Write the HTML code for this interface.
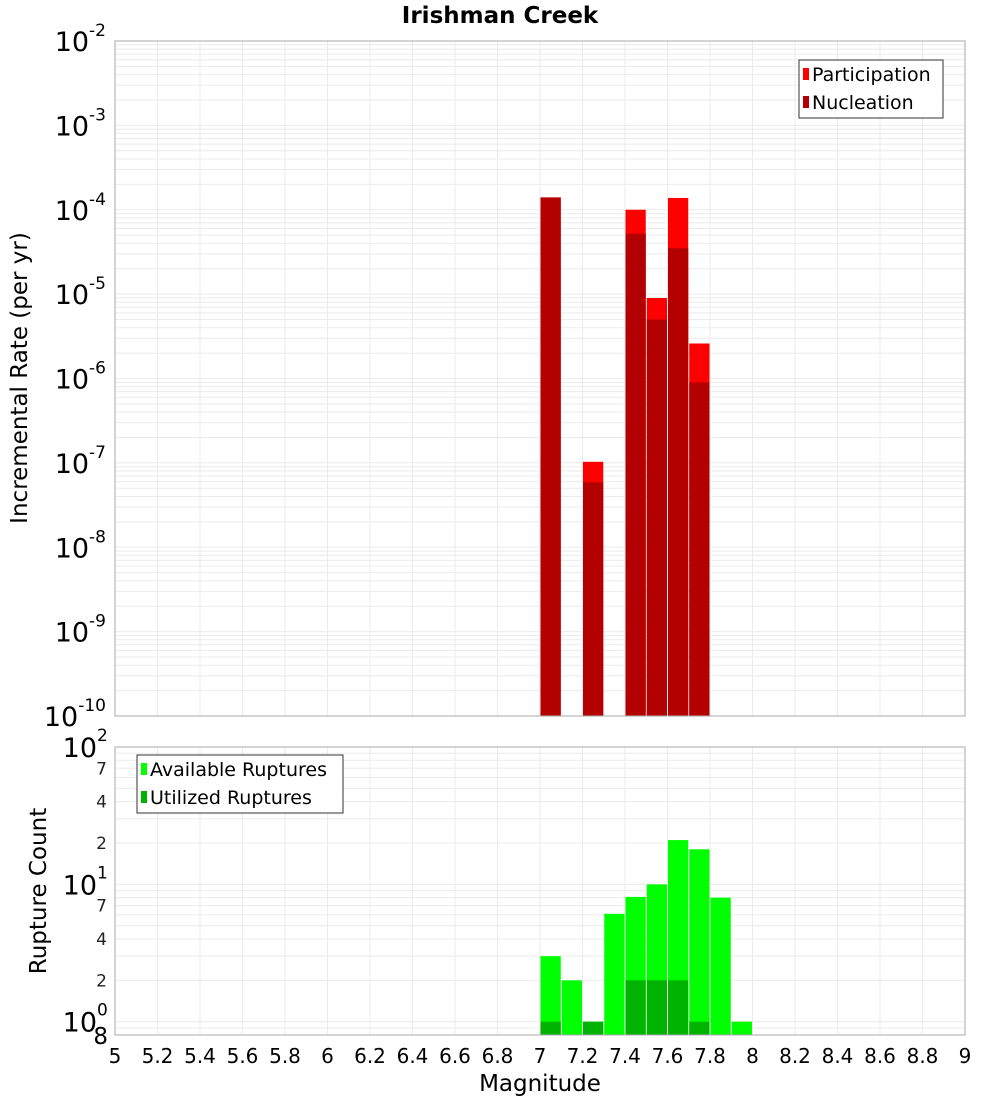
<!DOCTYPE html>
<html><head><meta charset="utf-8"><style>
body{margin:0;background:#fff;}
svg{display:block;font-family:"DejaVu Sans","Liberation Sans",sans-serif;}
</style></head><body>
<svg id="chart" width="1000" height="1100"></svg>
<script>
const mags = [7.05, 7.25, 7.45, 7.55, 7.65, 7.75];
const participation = [1.4e-4, 1.03e-7, 1.0e-4, 9e-6, 1.38e-4, 2.6e-6];
const nucleation = [1.4e-4, 5.9e-8, 5.2e-5, 5.0e-6, 3.5e-5, 9e-7];
const countMags = [7.05, 7.15, 7.25, 7.35, 7.45, 7.55, 7.65, 7.75, 7.85, 7.95];
const available = [3, 2, 1, 6.1, 8.1, 10, 21, 18, 8, 1];
const utilized = [1, 0, 1, 0, 2, 2, 2, 1, 0, 0];
const xTicks = [5,5.2,5.4,5.6,5.8,6,6.2,6.4,6.6,6.8,7,7.2,7.4,7.6,7.8,8,8.2,8.4,8.6,8.8,9];
const topExps = [-2,-3,-4,-5,-6,-7,-8,-9,-10];
const botMinorLabels = [7,4,2];

const NS="http://www.w3.org/2000/svg";
const svg=document.getElementById('chart');
function el(tag,attrs,parent){const e=document.createElementNS(NS,tag);for(const k in attrs)e.setAttribute(k,attrs[k]);(parent||svg).appendChild(e);return e;}
const L=115,R=965;
const xs=m=>L+(m-5)/4*(R-L);
const T1=41,B1=716;
const y1=v=>T1+(-2-Math.log10(v))*(B1-T1)/8;
const T2=747,B2=1035,lmin=Math.log10(0.8);
const y2=v=>T2+(2-Math.log10(v))*(B2-T2)/(2-lmin);

el('rect',{x:L,y:T1,width:R-L,height:B1-T1,fill:'#fff'});
el('rect',{x:L,y:T2,width:R-L,height:B2-T2,fill:'#fff'});
const g=el('g',{stroke:'#ebebeb','stroke-width':1});


xTicks.forEach(t=>{const x=xs(t);el('line',{x1:x,x2:x,y1:T1,y2:B1},g);el('line',{x1:x,x2:x,y1:T2,y2:B2},g);});
for(let e=-10;e<-2;e++)for(let k=1;k<10;k++){const y=y1(k*Math.pow(10,e));el('line',{x1:L,x2:R,y1:y,y2:y},g);}
for(let e=-1;e<2;e++)for(let k=1;k<10;k++){const v=k*Math.pow(10,e);if(v<0.8||v>100)continue;const y=y2(v);el('line',{x1:L,x2:R,y1:y,y2:y},g);}

const bw=(R-L)/40-1;
mags.forEach((m,i)=>{
 const x=xs(m)-bw/2;
 const p=el('rect',{x:x,y:y1(participation[i]),width:bw,height:B1-y1(participation[i]),fill:'#ff0000'});
 
 
 const n=el('rect',{x:x,y:y1(nucleation[i]),width:bw,height:B1-y1(nucleation[i]),fill:'#b30000'});
 
 
});
countMags.forEach((m,i)=>{
 const x=xs(m)-bw/2;
 if(available[i]>0){const a=el('rect',{x:x,y:y2(available[i]),width:bw,height:B2-y2(available[i]),fill:'#00ff00'});
 
 }
 if(utilized[i]>0){const u=el('rect',{x:x,y:y2(utilized[i]),width:bw,height:B2-y2(utilized[i]),fill:'#00b300'});
 
 }
});
el('rect',{x:L,y:T1,width:R-L,height:B1-T1,fill:'none',stroke:'#aaa'});
el('rect',{x:L,y:T2,width:R-L,height:B2-T2,fill:'none',stroke:'#aaa'});

topExps.forEach(e=>{
 const y=y1(Math.pow(10,e));
 const t=el('text',{x:106,y:y+10,'text-anchor':'end','font-size':27,fill:'#000'});
 
 
 t.textContent='10';
 const s=el('tspan',{dy:-15,'font-size':17},t);s.textContent=String(e);
});
[2,1,0].forEach(e=>{
 const y=y2(Math.pow(10,e));
 const t=el('text',{x:97,y:y+10,'text-anchor':'end','font-size':27,fill:'#000'});
 
 
 t.textContent='10';
 const s=el('text',{x:97,y:y-6,'font-size':17,fill:'#000'});s.textContent=String(e);
});
[1,0].forEach(e=>botMinorLabels.forEach(k=>{
 const y=y2(k*Math.pow(10,e));
 const t=el('text',{x:107,y:y+6,'text-anchor':'end','font-size':17,fill:'#222'});
 
 
 t.textContent=String(k);
}));
{const t=el('text',{x:108,y:B2+9,'text-anchor':'end','font-size':23,fill:'#000'});t.textContent='8';}
xTicks.forEach(v=>{
 const t=el('text',{x:xs(v),y:1063,'text-anchor':'middle','font-size':20,fill:'#000'});
 
 
 t.textContent=String(v);
});
let t=el('text',{x:500,y:23,'text-anchor':'middle','font-size':23,'font-weight':'bold'});t.textContent='Irishman Creek';


t=el('text',{x:540,y:1091,'text-anchor':'middle','font-size':23});t.textContent='Magnitude';


t=el('text',{x:27,y:378,'text-anchor':'middle','font-size':23,transform:'rotate(-90 27 378)'});t.textContent='Incremental Rate (per yr)';


t=el('text',{x:46,y:891,'text-anchor':'middle','font-size':23,transform:'rotate(-90 46 891)'});t.textContent='Rupture Count';



function legend(x,y,w,items,name){
 const gg=el('g',{});
 
 
 el('rect',{x:x,y:y,width:w,height:58,fill:'#fff',stroke:'#333'},gg);
 items.forEach((it,i)=>{
  el('rect',{x:x+4,y:y+8+i*28,width:6,height:12,fill:it[1]},gg);
  const tt=el('text',{x:x+13,y:y+21+i*28,'font-size':19},gg);tt.textContent=it[0];
 });
}
legend(799,60,144,[['Participation','#ff0000'],['Nucleation','#b30000']],'legend-top');
legend(137,755,206,[['Available Ruptures','#00ff00'],['Utilized Ruptures','#00b300']],'legend-bottom');
</script>
</body></html>
